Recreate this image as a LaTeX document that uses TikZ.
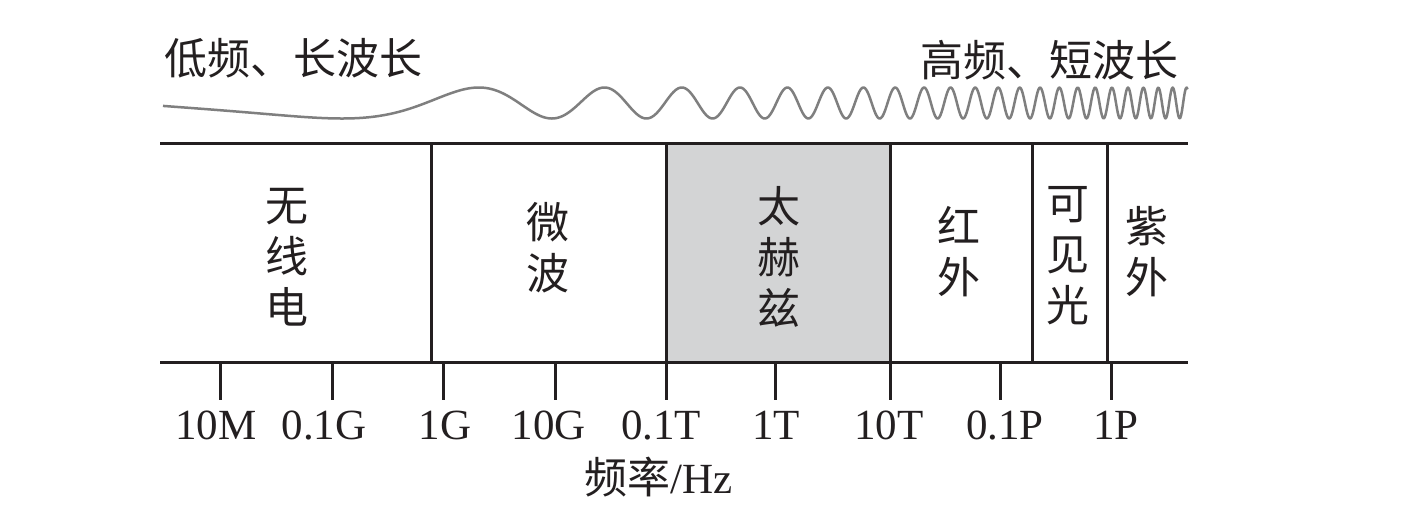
\documentclass[tikz,border=0pt]{standalone}
\usepackage{fontspec}
\setmainfont{Liberation Serif}
\newfontfamily\cjk{Noto Sans CJK SC}
\definecolor{ink}{HTML}{231F20}
\definecolor{wavegray}{HTML}{7F7F7F}
\definecolor{thzfill}{HTML}{D3D4D5}
\begin{document}
\begin{tikzpicture}[x=1pt,y=-1pt,
  frame/.style={line width=3pt, draw=ink},
  tickline/.style={line width=3pt, draw=ink},
  wave/.style={line width=2.5pt, draw=wavegray, line join=round},
  num/.style={inner sep=0pt, font=\fontsize{43}{50}\selectfont, text=ink},
  band/.style={inner sep=0pt, align=center, font=\cjk\fontsize{43}{51}\selectfont, text=ink},
  head/.style={inner sep=0pt, font=\cjk\fontsize{43}{50}\selectfont, text=ink}]
\path[use as bounding box, fill=white] (0,0) rectangle (1420,520);

% headings
\node[head, anchor=west] (low) at (164,58) {低频、长波长};
\node[head, anchor=east] (high) at (1179,60) {高频、短波长};

% chirped wave
\draw[wave] plot[domain=0:10.25, samples=1100, variable=\u]
  ({163+100*\u},{103-15.5*cos(100.8+28.15*\u+4.536*\u*\u*\u+0.2758*\u*\u*\u*\u)});

% terahertz band fill
\fill[thzfill] (666,143) rectangle (890,362);

% frame
\coordinate (TL) at (160,143);
\coordinate (TR) at (1188,143);
\coordinate (BL) at (160,362);
\coordinate (BR) at (1188,362);
\draw[frame] (TL) -- (TR);
\draw[frame] (BL) -- (BR);
\foreach \x/\n in {431/d1,666/d2,890/d3,1032/d4,1107/d5}{
  \coordinate (\n t) at (\x,143);
  \coordinate (\n b) at (\x,362);
  \draw[frame] (\n t) -- (\n b);
}

% ticks
\foreach \x/\n in {220/k1,332/k2,443/k3,555/k4,666/k5,775/k6,890/k7,1000/k8,1111/k9}{
  \coordinate (\n a) at (\x,362);
  \coordinate (\n b) at (\x,400);
  \draw[tickline] (\n a) -- (\n b);
}

% band labels
\node[band] (radio) at (287,257) {无\\线\\电};
\node[band] (micro) at (548,248) {微\\波};
\node[band] (thz) at (779,257) {太\\赫\\兹};
\node[band] (ir) at (959,252) {红\\外};
\node[band] (vis) at (1068,256) {可\\见\\光};
\node[band] (uv) at (1147,252) {紫\\外};

% tick labels
\node[num] (l1) at (216,425) {10M};
\node[num] (l2) at (324,425) {0.1G};
\node[num] (l3) at (445,425) {1G};
\node[num] (l4) at (549,425) {10G};
\node[num] (l5) at (661,425) {0.1T};
\node[num] (l6) at (776,425) {1T};
\node[num] (l7) at (889,425) {10T};
\node[num] (l8) at (1005,425) {0.1P};
\node[num] (l9) at (1116,425) {1P};

% axis title
\node[num] (axis) at (659,477) {{\cjk 频率}/Hz};
\end{tikzpicture}
\end{document}
